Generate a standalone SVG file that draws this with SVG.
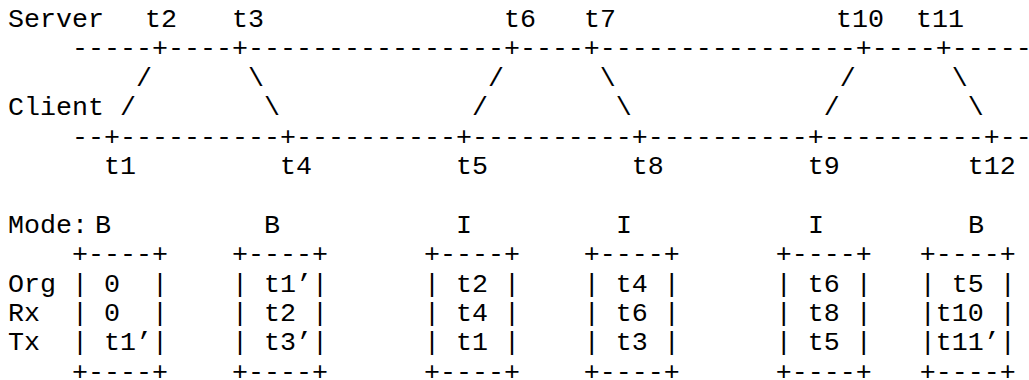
<svg xmlns="http://www.w3.org/2000/svg" width="1029" height="380" viewBox="0 0 1029 380" xml:space="preserve">
<style>
text { font-family: "Liberation Mono", "Courier New", monospace; font-size: 26.667px; fill: #000; white-space: pre; }
</style>
<rect width="1029" height="380" fill="#fff"/>
<g id="timeline-server">
<text x="8" y="27">Server</text>
<text x="145" y="27">t2</text>
<text x="232" y="27">t3</text>
<text x="504" y="27">t6</text>
<text x="584" y="27">t7</text>
<text x="836" y="27">t10</text>
<text x="916" y="27">t11</text>
<text x="8" y="56.4">    -----+----+----------------+----+----------------+----+-----</text>
</g>
<g id="connectors">
<text x="8" y="85.8">        /      \              /      \              /      \</text>
<text x="8" y="115.2">Client /        \            /        \            /        \</text>
</g>
<g id="timeline-client">
<text x="8" y="144.6">    --+----------+----------+----------+----------+----------+--</text>
<text x="8" y="174">      t1         t4         t5         t8         t9        t12</text>
</g>
<g id="modes">
<text x="8" y="232.8">Mode:</text>
<text x="95" y="232.8">B</text>
<text x="264" y="232.8">B</text>
<text x="456" y="232.8">I</text>
<text x="616" y="232.8">I</text>
<text x="808" y="232.8">I</text>
<text x="968" y="232.8">B</text>
</g>
<g id="table">
<text x="8" y="262.2">    +----+    +----+      +----+    +----+      +----+   +----+</text>
<text x="8" y="291.6">Org | 0  |    | t1’|      | t2 |    | t4 |      | t6 |   | t5 |</text>
<text x="8" y="321">Rx  | 0  |    | t2 |      | t4 |    | t6 |      | t8 |   |t10 |</text>
<text x="8" y="350.4">Tx  | t1’|    | t3’|      | t1 |    | t3 |      | t5 |   |t11’|</text>
<text x="8" y="379.8">    +----+    +----+      +----+    +----+      +----+   +----+</text>
</g>
</svg>
